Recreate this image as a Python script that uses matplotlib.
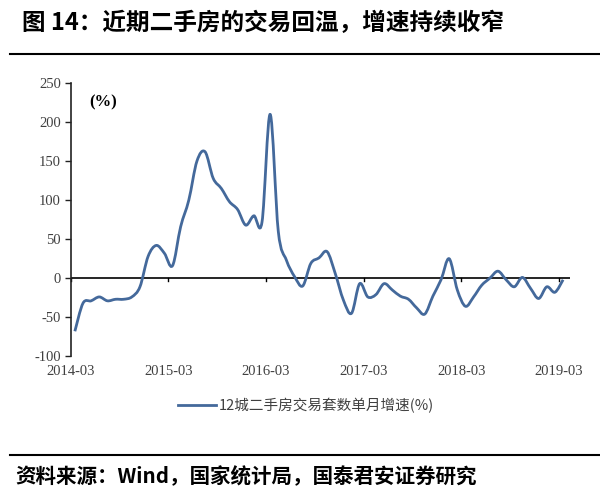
import numpy as np
import matplotlib
matplotlib.use("Agg")
import matplotlib.pyplot as plt
from matplotlib.lines import Line2D
from matplotlib.path import Path
from matplotlib.patches import PathPatch

plt.rcParams['font.family'] = ['Noto Sans CJK SC', 'DejaVu Sans']
plt.rcParams['axes.unicode_minus'] = False

# monthly data, 2014-03 .. 2019-03
months = [f"{2014 + (2 + i) // 12}-{(2 + i) % 12 + 1:02d}" for i in range(61)]
growth = [-68, -32, -29, -24, -29, -27, -27, -24, -11, 28,
          42, 32, 16, 66, 100, 150, 162, 128, 115, 98,
          88, 68, 80, 72, 210, 60, 23, 2, -10, 19,
          26, 34, 6, -28, -45, -7, -24, -21, -7, -15,
          -23, -27, -38, -46, -23, -2, 25, -15, -36, -24,
          -9, 0, 9, -2, -11, 1, -13, -26, -11, -18, -2]
tick_labels = ["2014-03", "2015-03", "2016-03", "2017-03", "2018-03", "2019-03"]
series_name = "12城二手房交易套数单月增速(%)"
title = "图 14：近期二手房的交易回温，增速持续收窄"
source = "资料来源：Wind，国家统计局，国泰君安证券研究"

line_color = "#44699b"
serif = ["Liberation Serif", "DejaVu Serif"]


def smooth_path(xs, ys):
    # Excel-style smoothed line: cubic bezier through every point
    p = np.column_stack([xs, ys]).astype(float)
    verts = [p[0]]
    codes = [Path.MOVETO]
    n = len(p)
    for i in range(n - 1):
        a = p[i - 1] if i > 0 else p[i]
        d = p[i + 2] if i + 2 < n else p[i + 1]
        c1 = p[i] + (p[i + 1] - a) / 6
        c2 = p[i + 1] - (d - p[i]) / 6
        verts += [c1, c2, p[i + 1]]
        codes += [Path.CURVE4] * 3
    return Path(verts, codes)


fig = plt.figure(figsize=(6, 4.86), dpi=100)
ax = fig.add_axes([0.118, 0.267, 0.832, 0.562])

x = np.arange(len(growth))
ax.add_patch(PathPatch(smooth_path(x, growth), fill=False, edgecolor=line_color,
                       lw=2.0, joinstyle="round", zorder=3))

ax.set_xlim(-0.5, len(growth) - 0.15)
ax.set_ylim(-100, 250)
ax.set_yticks(range(-100, 251, 50))
ax.tick_params(axis="y", direction="out", length=4, width=1, color="#222222",
               labelsize=10.5, labelcolor="#404040", pad=3)
for lb in ax.get_yticklabels():
    lb.set_family(serif)

# x axis: zero line with category boundary ticks, labels below the plot
ax.axhline(0, color="black", lw=1.2, zorder=2)
pos = [months.index(t) - 0.5 for t in tick_labels]
ax.set_xticks(pos)
ax.set_xticklabels([])
ax.tick_params(axis="x", length=0)
for p, t in zip(pos, tick_labels):
    ax.plot([p, p], [0, -4], color="black", lw=1, clip_on=False)
    ax.text(p, -111, t, ha="center", va="top", fontsize=10.5, color="#404040", family=serif)

for s in ["top", "right", "bottom"]:
    ax.spines[s].set_visible(False)
ax.spines["left"].set_color("#222222")
ax.spines["left"].set_linewidth(1.2)

ax.text(0.037, 0.96, "(%)", transform=ax.transAxes, ha="left", va="top",
        fontsize=12, fontweight="bold", family=serif)

handle = Line2D([], [], color=line_color, lw=2.0)
fig.legend([handle], [series_name], loc="center", bbox_to_anchor=(0.51, 0.166),
           frameon=False, fontsize=10.5, handlelength=2.6, handletextpad=0.2,
           labelcolor="#404040")

fig.text(0.037, 0.953, title, ha="left", va="center", fontsize=17, fontweight="bold")
fig.add_artist(Line2D([0.017, 1.0], [0.889, 0.889], color="black", lw=1.5,
                      transform=fig.transFigure))
fig.add_artist(Line2D([0.017, 1.0], [0.064, 0.064], color="black", lw=1.5,
                      transform=fig.transFigure))
fig.text(0.025, 0.019, source, ha="left", va="center", fontsize=14.8, fontweight="bold")

fig.savefig("out.png", dpi=100)
